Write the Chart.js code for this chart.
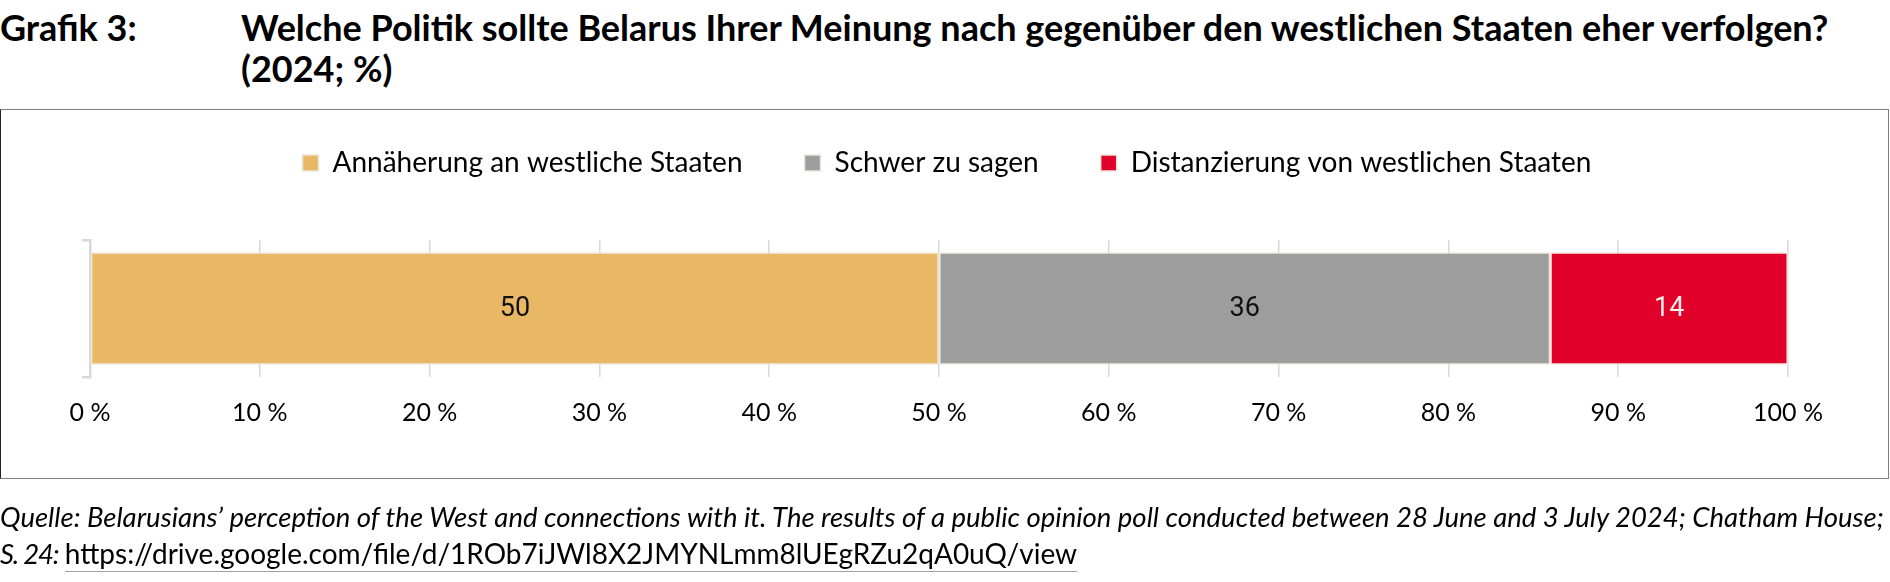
<!DOCTYPE html>
<html lang="de">
<head>
<meta charset="utf-8">
<title>Grafik 3</title>
<script src="https://cdn.jsdelivr.net/npm/chart.js@4.4.1/dist/chart.umd.min.js"></script>
<style>
  html, body { margin: 0; padding: 0; background: #fff; }
  body { width: 1890px; height: 582px; position: relative; overflow: hidden; font-family: Lato, "Open Sans", sans-serif; color: #000; }
  .t { position: absolute; top: 7px; font-weight: 700; font-size: 36px; line-height: 41px; white-space: nowrap; }
  #nr { left: 0; }
  #title { left: 241px; }
  #frame { position: absolute; left: 0; top: 109px; width: 1889px; height: 370px; box-sizing: border-box;
           border: 1px solid #808080; border-left-color: #222; }
  #chart { position: absolute; left: 0; top: 0; }
  #source { position: absolute; left: 0; top: 498px; font-size: 27.5px; line-height: 37px; font-style: italic; white-space: nowrap; }
  #source .pg { letter-spacing: -1.2px; }
  #source a { font-style: normal; font-size: 28px; color: #000; text-decoration: none; border-bottom: 1px solid #a0a0a0; padding-bottom: 1px; }
</style>
</head>
<body>
<div class="t" id="nr">Grafik 3:</div>
<div class="t" id="title">Welche Politik sollte Belarus Ihrer Meinung nach gegenüber den westlichen Staaten eher verfolgen?<br>(2024; %)</div>
<div id="frame"></div>
<canvas id="chart" width="1890" height="582"></canvas>
<div id="source">Quelle: Belarusians’ perception of the West and connections with it. The results of a public opinion poll conducted between 28 June and 3 July 2024; Chatham House;<br><span class="pg">S. 24:</span> <a href="https://drive.google.com/file/d/1ROb7iJWl8X2JMYNLmm8lUEgRZu2qA0uQ/view">https://drive.google.com/file/d/1ROb7iJWl8X2JMYNLmm8lUEgRZu2qA0uQ/view</a></div>
<script>
// data
const categories = ['2024'];
const seriesNames = ['Annäherung an westliche Staaten', 'Schwer zu sagen', 'Distanzierung von westlichen Staaten'];
const annaeherung = [50];
const schwerZuSagen = [36];
const distanzierung = [14];
const xTickValues = [0, 10, 20, 30, 40, 50, 60, 70, 80, 90, 100];

const colours = ['#e8b866', '#9d9d9d', '#e1002a'];
const valueColours = ['#111', '#111', '#f4f0e8'];

Chart.defaults.font.family = 'Lato, "Open Sans", sans-serif';
Chart.defaults.color = '#000';

// extra room below the legend and a slight shift so it sits centred in the frame
const legendSpacing = {
    id: 'legendSpacing',
    beforeInit(chart) {
        const fit = chart.legend.fit;
        chart.legend.fit = function () {
            fit.bind(chart.legend)();
            this.height += 53;
        };
    },
    afterLayout(chart) {
        chart.legend.left += 12;
        chart.legend.right += 12;
    }
};

// value labels in the middle of every segment
const barValueLabels = {
    id: 'barValueLabels',
    afterDatasetsDraw(chart) {
        const ctx = chart.ctx;
        ctx.save();
        ctx.font = '27px Roboto, "Open Sans", sans-serif';
        ctx.textAlign = 'center';
        ctx.textBaseline = 'middle';
        chart.data.datasets.forEach((ds, i) => {
            chart.getDatasetMeta(i).data.forEach((bar, j) => {
                const c = bar.getCenterPoint();
                ctx.fillStyle = valueColours[i];
                ctx.fillText(ds.data[j], c.x, c.y + 1);
            });
        });
        ctx.restore();
    }
};

const seriesValues = [annaeherung, schwerZuSagen, distanzierung];
const datasets = seriesNames.map((name, i) => ({
    label: name,
    data: seriesValues[i],
    backgroundColor: colours[i],
    borderColor: '#ece6d8',
    borderWidth: 1.5,
    borderSkipped: false,
    categoryPercentage: 0.82,
    barPercentage: 1
}));

new Chart(document.getElementById('chart').getContext('2d'), {
    type: 'bar',
    data: { labels: categories, datasets: datasets },
    options: {
        indexAxis: 'y',
        responsive: false,
        animation: false,
        devicePixelRatio: 1,
        layout: { padding: { top: 87, left: 82, right: 102, bottom: 145 } },
        plugins: {
            legend: {
                position: 'top',
                labels: {
                    font: { size: 28 },
                    boxWidth: 16,
                    boxHeight: 16,
                    padding: 62,
                    color: '#000'
                }
            },
            tooltip: { enabled: false }
        },
        scales: {
            x: {
                stacked: true,
                min: 0,
                max: 100,
                afterBuildTicks: scale => { scale.ticks = xTickValues.map(v => ({ value: v })); },
                afterFit: scale => { scale.height = 60; },
                ticks: {
                    font: { size: 25 },
                    color: '#000',
                    padding: 21,
                    callback: v => v + ' %'
                },
                grid: { color: '#d9d9d9', lineWidth: 1.5, drawTicks: false },
                border: { display: false }
            },
            y: {
                stacked: true,
                afterFit: scale => { scale.width = 8; },
                ticks: { display: false },
                grid: { drawOnChartArea: false, drawTicks: true, tickLength: 8, color: '#d9d9d9', lineWidth: 2.5 },
                border: { display: true, color: '#d9d9d9', width: 2.5 }
            }
        }
    },
    plugins: [legendSpacing, barValueLabels]
});
</script>
</body>
</html>
